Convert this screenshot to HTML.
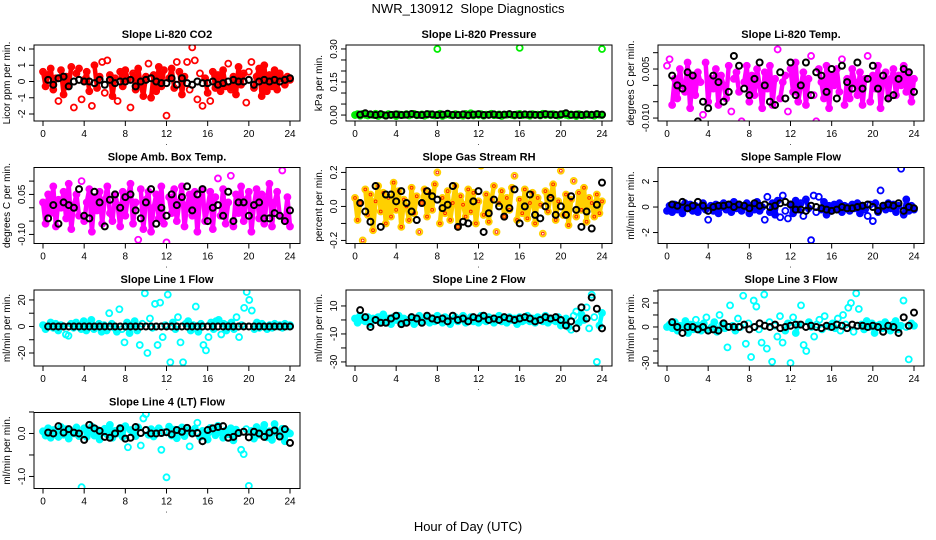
<!DOCTYPE html>
<html><head><meta charset="utf-8"><style>
html,body{margin:0;padding:0;background:#fff;}
svg{display:block;font-family:"Liberation Sans",sans-serif;}
</style></head><body>
<svg id="chart" width="936" height="540" viewBox="0 0 936 540" xmlns="http://www.w3.org/2000/svg">
<rect x="0" y="0" width="936" height="540" fill="#fff"/>
<text x="468" y="13" text-anchor="middle" font-size="13" xml:space="preserve" style="white-space:pre">NWR_130912  Slope Diagnostics</text>
<text x="468" y="531" text-anchor="middle" font-size="13">Hour of Day (UTC)</text>
</svg>
<script>
const xTicks=[0,4,8,12,16,20,24];
// ---- data (colored = per-sample slopes, black = averaged slopes) ----
const co2Vals=[0.6,-0.3,0.4,0.8,-0.5,0.2,-1.2,0.7,-0.8,0.3,-0.2,0.9,-1.6,0.5,0.8,-1.1,0.1,0.6,-0.6,-1.5,1.0,-0.4,0.3,1.2,-0.7,1.3,0.4,-0.9,0.2,-1.2,0.6,-0.3,0.7,0.1,-1.6,0.5,-0.5,0.8,-0.2,-0.9,0.3,1.1,-1.0,0.4,-0.6,0.9,-0.3,0.7,-2.1,0.2,0.8,-0.4,1.2,0.6,-0.8,0.3,1.2,-0.5,2.1,1.3,-1.1,0.5,-1.5,0.2,-0.7,-1.2,0.6,-0.4,0.4,-0.6,0.7,-0.3,1.1,-0.5,0.3,-0.8,0.9,-0.2,0.5,-1.3,0.6,1.2,-0.4,0.3,0.8,-0.9,1.0,-0.6,0.4,-0.3,0.7,-0.5,0.5,0.2,-0.2,0.3,0.1];
const co2Avg=[0.1,-0.2,0.2,0.3,-0.3,0.0,0.1,0.0,0.0,-0.1,0.1,-0.2,0.1,-0.1,0.0,0.0,0.1,-0.3,0.0,0.1,0.2,0.0,-0.1,-0.1,0.2,-0.2,0.2,-0.1,-0.2,0.0,-0.1,-0.1,0.0,-0.2,-0.1,0.0,0.1,0.0,0.0,0.1,-0.2,0.0,0.1,0.0,0.1,0.0,0.1,0.2];
const presVals=[0.000,0.004,-0.003,0.005,0.001,-0.002,0.003,0.000,0.006,-0.004,0.002,0.001,-0.003,0.004,0.000,0.002,-0.005,0.003,0.001,0.000,0.004,-0.002,0.002,0.005,-0.001,0.000,0.003,-0.003,0.001,0.004,0.000,-0.002,0.002,0.006,-0.004,0.001,0.003,0.000,-0.002,0.004,0.002,0.000,-0.003,0.005,0.001,0.008,-0.002,0.003,0.000,0.004,-0.003,0.002,0.001,0.006,-0.001,0.000,0.003,-0.004,0.002,0.001,0.004,0.000,-0.002,0.003,0.005,-0.001,0.002,0.000,-0.003,0.004,0.001,0.002,-0.002,0.006,0.000,0.003,-0.001,0.004,0.002,-0.003,0.000,0.005,0.001,-0.002,0.003,0.000,-0.005,0.004,0.001,-0.002,0.003,0.000,0.002,-0.003,0.004,0.001,0.000];
const presOutHours=[8,16,24];
const presOutVals=[0.30,0.305,0.30];
const presAvg=[0.002,0.008,0.003,0.000,0.004,-0.002,0.001,0.003,0.000,0.002,0.005,0.001,0.000,0.004,0.003,0.000,0.002,0.006,0.001,0.000,0.003,-0.001,0.002,0.004,0.000,0.001,0.003,0.000,0.002,0.004,0.001,0.000,0.003,0.002,0.001,0.000,0.004,0.002,0.000,0.003,0.008,0.001,0.002,0.000,0.003,0.001,0.004,0.002];
const tempVals=[0.006,0.008,-0.006,0.002,-0.004,0.005,0.000,-0.002,0.007,-0.007,0.003,-0.003,0.004,0.001,-0.009,0.007,-0.005,0.002,-0.001,0.005,-0.006,0.003,0.000,-0.004,0.006,-0.008,0.002,0.004,-0.002,-0.011,0.001,0.006,-0.005,0.003,-0.003,0.005,0.000,-0.007,0.004,-0.001,0.006,-0.006,0.002,0.011,-0.004,0.001,0.003,-0.008,0.005,-0.002,0.007,-0.005,0.000,0.004,-0.006,0.002,0.009,-0.003,-0.011,0.005,0.001,-0.004,0.006,-0.007,0.003,0.000,0.005,-0.002,0.008,-0.006,0.002,-0.004,0.005,0.001,-0.003,0.004,-0.006,0.002,0.009,-0.005,0.003,-0.001,0.006,-0.007,0.001,0.004,-0.004,0.002,0.005,-0.003,0.003,0.000,0.006,-0.002,0.004,-0.005,0.002];
const tempAvg=[0.003,0.000,-0.001,0.004,0.003,-0.011,-0.005,-0.007,0.003,0.001,-0.005,-0.002,0.009,0.006,-0.001,-0.003,0.002,0.007,0.000,-0.005,-0.006,0.004,-0.004,0.007,-0.003,0.000,0.007,-0.003,0.004,0.003,-0.002,0.005,-0.004,0.006,0.001,-0.001,0.007,-0.001,0.002,0.006,-0.001,0.003,-0.004,-0.003,0.002,0.005,0.004,-0.002];
const ambVals=[0.02,-0.06,0.05,-0.02,0.08,-0.07,0.03,0.00,0.06,-0.04,0.09,-0.08,0.01,0.05,-0.03,0.10,-0.05,0.02,0.07,-0.09,0.04,-0.01,0.06,-0.06,0.03,0.08,-0.02,-0.05,0.05,0.01,-0.07,0.06,-0.03,0.04,0.09,-0.06,0.02,-0.12,0.07,-0.08,0.03,0.06,-0.09,0.00,0.05,-0.04,0.08,-0.06,-0.13,0.04,-0.02,0.07,-0.05,0.02,0.08,-0.07,0.01,0.05,-0.03,0.06,-0.09,0.03,0.07,-0.05,0.00,0.06,-0.08,0.04,0.11,-0.03,0.07,-0.06,0.02,0.12,-0.07,0.05,-0.02,0.08,-0.05,0.03,0.06,-0.09,0.01,0.07,-0.04,0.05,-0.06,0.03,0.09,-0.07,0.02,0.06,-0.03,0.14,-0.05,0.04,-0.07];
const ambAvg=[-0.04,0.01,-0.06,0.02,0.01,0.00,0.07,-0.03,-0.04,0.06,0.02,-0.07,0.03,0.05,0.00,0.04,0.05,-0.01,-0.04,0.02,0.07,-0.06,0.00,-0.03,0.05,0.01,0.04,0.08,-0.01,0.05,0.07,-0.05,0.00,0.01,-0.03,0.06,-0.05,0.02,0.02,-0.03,0.01,0.02,-0.04,-0.04,-0.02,-0.03,-0.05,-0.01];
const rhVals=[0.05,-0.08,0.02,-0.20,0.10,-0.05,0.07,-0.14,0.03,0.12,-0.03,0.08,-0.10,0.05,-0.06,0.14,-0.02,0.09,-0.12,0.04,0.00,-0.08,0.11,-0.04,0.06,-0.15,0.02,0.10,-0.06,0.08,-0.02,0.13,0.20,-0.10,0.05,-0.04,0.09,-0.08,0.02,0.12,-0.12,0.06,0.01,-0.06,0.10,-0.03,0.08,-0.10,0.03,0.24,-0.05,0.07,-0.09,0.04,0.12,-0.15,0.02,0.09,-0.06,0.05,-0.02,0.11,0.18,-0.08,0.04,-0.04,0.10,-0.07,0.02,0.08,-0.10,0.05,0.01,-0.16,0.09,-0.03,0.06,0.13,-0.08,0.03,0.21,-0.05,0.07,-0.11,0.04,0.15,-0.06,0.08,-0.02,0.11,-0.09,0.05,0.02,-0.06,0.07,-0.04,0.03];
const rhAvg=[0.02,-0.03,-0.09,0.12,-0.12,0.07,0.07,0.03,0.09,0.02,-0.03,-0.08,0.02,0.09,0.06,0.04,-0.01,0.01,0.12,-0.12,-0.09,-0.10,0.03,0.09,-0.15,-0.04,0.04,0.00,-0.06,-0.01,0.10,-0.10,0.00,0.07,-0.05,-0.07,0.00,0.05,-0.05,0.00,-0.05,0.06,-0.02,-0.12,-0.03,-0.13,0.01,0.14];
const flowVals=[-0.3,0.1,-0.4,0.2,-0.2,0.0,-0.5,0.3,-0.1,0.2,-0.3,0.1,-0.4,0.0,0.3,-0.2,-1.0,0.1,-0.3,0.2,-0.5,0.0,0.3,-0.2,0.1,-0.4,0.4,-0.1,0.2,-0.3,0.0,0.3,-0.5,0.1,-0.2,0.4,-0.3,0.0,-1.0,0.8,-0.4,0.3,-0.6,0.5,-0.8,0.9,-0.3,-0.9,0.2,-0.5,0.5,-0.2,0.3,-0.7,0.6,-0.1,-2.6,0.9,-0.4,0.8,-0.2,0.4,-0.6,0.1,-0.3,0.2,-0.1,0.3,-0.4,0.1,0.0,-0.3,0.2,-0.1,0.3,-0.5,0.1,-0.2,-0.7,0.2,-1.1,0.3,-0.4,1.3,0.1,-0.2,0.3,-0.1,0.2,-0.4,0.1,3.0,-0.6,0.6,-0.3,0.1,-0.2];
const flowAvg=[0.2,0.1,0.4,-0.1,0.1,0.4,0.1,-0.3,0.0,0.1,0.1,0.2,0.0,0.2,0.1,-0.1,0.3,0.1,0.2,0.0,0.1,0.3,0.4,0.2,-0.2,-0.2,-0.3,0.1,0.0,-0.1,-0.2,-0.3,-0.2,0.0,-0.1,-0.1,0.0,0.1,0.2,0.0,-0.3,0.1,0.2,0.1,0.3,-0.3,0.0,-0.1];
const line1Vals=[1,-2,0,3,-1,2,-3,1,0,-6,-7,2,-1,3,0,-2,4,-3,1,5,-2,0,2,-4,1,-3,10,2,-1,-4,13,-2,-12,3,-5,1,4,-3,-14,2,25,-20,6,-1,17,-14,18,-8,1,24,-27,3,-2,7,-12,-27,2,4,-3,1,15,-4,2,-14,-18,-8,3,-2,4,5,-6,2,-3,1,3,-2,7,-8,1,14,26,20,12,-2,3,-1,2,0,-2,1,-1,2,0,1,-1,2,0,1];
const line1Avg=[0,0,0,0,0,0,0,0,0,0,0,0,0,0,0,0,0,0,0,0,0,0,0,0,0,0,0,0,0,0,0,0,0,0,0,0,0,0,0,0,0,0,0,0,0,0,0,0];
const line2Vals=[1,-2,3,0,-1,2,-3,1,0,2,-2,4,-1,1,-3,2,0,3,-2,1,-1,0,2,-3,1,3,-1,0,2,-2,1,-1,3,0,-2,2,1,-3,0,2,-1,1,3,-2,0,2,-1,1,-2,3,0,-1,2,1,-2,0,3,-1,1,-2,2,0,1,-3,2,-1,0,3,-1,1,-2,2,0,-1,3,-2,1,0,-1,2,-4,-3,1,-5,-7,3,6,-2,4,0,9,-6,18,2,-30,-4,5];
const line2Avg=[7,2,-5,0,-2,-2,1,3,-3,-2,2,1,-2,3,1,0,1,-1,3,0,1,-1,2,1,3,0,1,0,2,1,0,1,2,1,-1,0,2,1,2,0,-4,-1,-6,9,1,16,8,-6];
const line3Vals=[0,2,-1,4,-3,1,0,5,-5,2,-2,6,1,-3,3,8,-2,0,4,-4,10,2,-1,-17,18,1,-3,7,0,26,-14,3,-25,22,17,-2,-13,27,-18,4,-29,1,-8,9,-13,-3,3,-30,8,-5,2,18,-15,-20,4,0,-8,2,6,-2,9,1,0,3,-1,7,-3,10,2,16,20,-4,28,15,2,-2,5,0,3,-5,1,2,-1,4,0,-3,2,5,-2,1,22,0,-27,3,1];
const line3Avg=[4,0,-5,0,0,-2,0,-3,-2,-3,3,0,0,0,2,-2,0,3,1,0,2,-1,0,1,2,2,0,1,0,-1,1,0,2,1,-1,2,1,1,0,1,0,-4,1,0,-5,8,1,12];
const line4Vals=[0.05,-0.05,0.12,-0.10,0.08,0.02,-0.08,0.15,-0.03,0.10,-0.12,0.05,0.00,0.14,-0.06,-1.25,0.12,-0.08,0.04,0.16,-0.05,0.09,-0.14,0.03,0.11,-0.02,0.20,-0.10,0.06,0.00,0.13,-0.08,0.17,-0.32,0.08,0.02,-0.06,0.14,-0.28,0.35,0.45,-0.03,0.10,-0.07,0.05,0.12,-0.38,0.03,-1.02,0.16,-0.05,0.09,-0.11,0.02,0.14,-0.06,0.08,-0.30,0.04,0.11,0.25,-0.08,0.06,0.00,-0.14,0.13,0.05,-0.04,0.18,0.03,-0.10,0.07,-0.02,0.12,-0.16,0.09,0.01,-0.38,-0.48,0.10,-1.22,0.06,-0.12,0.15,-0.03,0.08,0.20,-0.09,0.05,-0.15,0.22,0.02,-0.06,0.11,-0.18,0.04,0.0];
const line4Avg=[0.02,0.00,0.17,0.02,0.10,0.02,0.00,-0.15,0.20,0.12,0.06,-0.08,-0.10,0.00,0.12,-0.12,-0.10,0.15,0.01,0.08,0.00,0.00,0.01,0.03,-0.02,0.08,0.04,0.13,0.00,0.01,-0.18,0.08,0.12,0.15,0.17,-0.10,-0.08,0.01,0.04,-0.09,0.04,0.00,-0.08,0.02,0.07,-0.07,0.10,-0.22];
// ---- ticks ----
const co2Ticks=[-2,-1,0,1,2], co2Labels=["-2","-1","0","1","2"];
const presTicks=[0,0.05,0.10,0.15,0.20,0.25,0.30], presLabels=["0.00","","","0.15","","","0.30"];
const tempTicks=[-0.010,-0.005,0,0.005,0.010], tempLabels=["-0.010","","","0.005",""];
const ambTicks=[-0.10,-0.05,0,0.05,0.10], ambLabels=["-0.10","","","0.05",""];
const rhTicks=[-0.2,-0.1,0,0.1,0.2], rhLabels=["-0.2","","0.0","","0.2"];
const flowTicks=[-2,0,2], flowLabels=["-2","0","2"];
const line1Ticks=[-20,-10,0,10,20], line1Labels=["-20","","0","","20"];
const line2Ticks=[-30,-20,-10,0,10], line2Labels=["-30","","-10","","10"];
const line3Ticks=[-30,-20,-10,0,10,20,30], line3Labels=["-30","","","0","","20",""];
const line4Ticks=[-1.0,-0.5,0.0,0.5], line4Labels=["-1.0","","0.0",""];

const panels=[
 {name:"co2",title:"Slope Li-820 CO2",ylab:"Licor ppm per min.",c:0,r:0,ymin:-2.43,ymax:2.246,vals:co2Vals,avg:co2Avg,color:"#ff0000",ticks:co2Ticks,labels:co2Labels,core:1.0},
 {name:"pressure",title:"Slope Li-820 Pressure",ylab:"kPa per min.",c:1,r:0,ymin:-0.027,ymax:0.318,vals:presVals,avg:presAvg,color:"#00ee00",ticks:presTicks,labels:presLabels,outH:presOutHours,outV:presOutVals,core:0.05},
 {name:"li820-temp",title:"Slope Li-820 Temp.",ylab:"degrees C per min.",c:2,r:0,ymin:-0.0109,ymax:0.01235,vals:tempVals,avg:tempAvg,color:"#ff00ff",ticks:tempTicks,labels:tempLabels,core:0.0075},
 {name:"amb-box-temp",title:"Slope Amb. Box Temp.",ylab:"degrees C per min.",c:0,r:1,ymin:-0.134,ymax:0.151,vals:ambVals,avg:ambAvg,color:"#ff00ff",ticks:ambTicks,labels:ambLabels,core:0.095},
 {name:"gas-stream-rh",title:"Slope Gas Stream RH",ylab:"percent per min.",c:1,r:1,ymin:-0.218,ymax:0.229,vals:rhVals,avg:rhAvg,color:"#ffd000",inner:"#ff2000",ticks:rhTicks,labels:rhLabels,core:0.14},
 {name:"sample-flow",title:"Slope Sample Flow",ylab:"ml/min per min.",c:2,r:1,ymin:-2.86,ymax:3.1,vals:flowVals,avg:flowAvg,color:"#0000ff",ticks:flowTicks,labels:flowLabels,core:0.6},
 {name:"line1-flow",title:"Slope Line 1 Flow",ylab:"ml/min per min.",c:0,r:2,ymin:-29.8,ymax:27.5,vals:line1Vals,avg:line1Avg,color:"#00ffff",ticks:line1Ticks,labels:line1Labels,core:5},
 {name:"line2-flow",title:"Slope Line 2 Flow",ylab:"ml/min per min.",c:1,r:2,ymin:-32.9,ymax:21.4,vals:line2Vals,avg:line2Avg,color:"#00ffff",ticks:line2Ticks,labels:line2Labels,core:5},
 {name:"line3-flow",title:"Slope Line 3 Flow",ylab:"ml/min per min.",c:2,r:2,ymin:-32.5,ymax:30.8,vals:line3Vals,avg:line3Avg,color:"#00ffff",ticks:line3Ticks,labels:line3Labels,core:5},
 {name:"line4-flow",title:"Slope Line 4 (LT) Flow",ylab:"ml/min per min.",c:0,r:3,ymin:-1.28,ymax:0.488,vals:line4Vals,avg:line4Avg,color:"#00ffff",ticks:line4Ticks,labels:line4Labels,core:0.22}
];
const NS="http://www.w3.org/2000/svg";
const svg=document.getElementById('chart');
function mk(tag,attrs,parent){const e=document.createElementNS(NS,tag);for(const k in attrs)e.setAttribute(k,attrs[k]);(parent||svg).appendChild(e);return e;}
panels.forEach(p=>{
 const L=34+312*p.c, R=L+266, T=45+122.5*p.r, B=T+76;
 const g=mk('g',{});
 
 
 const xs=h=>L+9+h*(R-10-(L+9))/24;
 const ys=v=>B-(v-p.ymin)/(p.ymax-p.ymin)*(B-T);
 const t=mk('text',{x:(L+R)/2,y:T-7,'text-anchor':'middle','font-size':11,'font-weight':'bold'},g);
 t.textContent=p.title;
 
 
 const yl=mk('text',{x:0,y:0,'text-anchor':'middle','font-size':10,transform:`translate(${L-24},${(T+B)/2}) rotate(-90)`},g);
 yl.textContent=p.ylab;
 
 
 xTicks.forEach(h=>{
  const tk=mk('line',{x1:xs(h),x2:xs(h),y1:B,y2:B+5,stroke:'#000','stroke-width':1},g);
  
  
  const lb=mk('text',{x:xs(h),y:B+16,'text-anchor':'middle','font-size':10},g);
  lb.textContent=String(h);
  
  
 });
 const dot=mk('text',{x:xs(12),y:B+24,'text-anchor':'middle','font-size':8},g);
 dot.textContent='.';
 
 
 const yt=p.ticks;
 mk('line',{x1:L,x2:L,y1:ys(yt[0]),y2:ys(yt[yt.length-1]),stroke:'#000'},g);
 yt.forEach((v,i)=>{
  const tk=mk('line',{x1:L-5,x2:L,y1:ys(v),y2:ys(v),stroke:'#000'},g);
  
  
  if(p.labels[i]){
   const lb=mk('text',{x:0,y:0,'text-anchor':'middle','font-size':10,transform:`translate(${L-9},${ys(v)}) rotate(-90)`},g);
   lb.textContent=p.labels[i];
   
   
  }
 });
 const cid='clip'+p.name;
 const cp=mk('clipPath',{id:cid},g);mk('rect',{x:L,y:T,width:R-L,height:B-T},cp);
 const pg=mk('g',{'clip-path':`url(#${cid})`},g);
 const n=p.vals.length;
 const hx=i=>i*24/(n-1);
 // dense band: connect consecutive non-outlier samples
 for(let i=1;i<n;i++){
  const a=p.vals[i-1], b=p.vals[i];
  if(Math.abs(a)<=p.core && Math.abs(b)<=p.core){
   const s=mk('line',{x1:xs(hx(i-1)),y1:ys(a),x2:xs(hx(i)),y2:ys(b),stroke:p.color,'stroke-width':4.5,'stroke-linecap':'round'},pg);
   
   
  }
 }
 p.vals.forEach((v,i)=>{
  const h=hx(i);
  const c=mk('circle',{cx:xs(h),cy:ys(v),r:3,fill:'none',stroke:p.color,'stroke-width':1.8},pg);
  
  
  if(p.inner){mk('circle',{cx:xs(h),cy:ys(v),r:1.4,fill:'none',stroke:p.inner,'stroke-width':0.9},pg);}
 });
 if(p.outH){p.outH.forEach((h,i)=>{
  const c=mk('circle',{cx:xs(h),cy:ys(p.outV[i]),r:3,fill:'none',stroke:p.color,'stroke-width':1.8},pg);
  
  
 });}
 const m=p.avg.length;
 p.avg.forEach((v,i)=>{
  const h=0.5+i*23.5/(m-1);
  const c=mk('circle',{cx:xs(h),cy:ys(v),r:3,fill:'none',stroke:'#000','stroke-width':2},pg);
  
  
 });
 const box=mk('rect',{x:L,y:T,width:R-L,height:B-T,fill:'none',stroke:'#000','stroke-width':1},g);
 
 
});
</script>
</body></html>
